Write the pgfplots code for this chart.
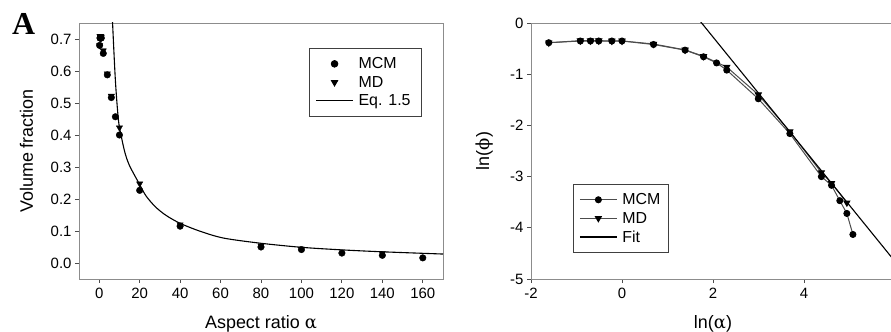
\documentclass[border=0pt]{standalone}
\usepackage{fontspec}
\setmainfont{Liberation Sans}
\newfontfamily\greekfont{DejaVu Serif}
\newfontfamily\tnr{Liberation Serif}
\usepackage{pgfplots}
\pgfplotsset{compat=1.18}
\pgfplotsset{
  mystyle/.style={
    scale only axis, width=364bp, height=256bp,
    axis line style={black!45, line width=0.9bp},
    tick style={black!70, line width=0.8bp},
    tick align=outside, major tick length=4bp, tick pos=left,
    ticklabel style={font=\fontsize{15}{17}\selectfont},
    xticklabel style={yshift=-2bp},
    label style={font=\fontsize{18}{20}\selectfont},
    /pgf/number format/assume math mode=true,
    legend style={draw=black!75, line width=0.9bp, inner xsep=6bp, inner ysep=7bp,
      font=\fontsize{16}{18}\selectfont, row sep=2bp, column sep=3bp, anchor=north west},
    legend cell align=left,
    legend image code/.code={\draw[mark repeat=2,mark phase=2,#1] plot coordinates {(0bp,0bp) (18.5bp,0bp) (37bp,0bp)};},
  }
}
\begin{document}
\begin{tikzpicture}
\useasboundingbox (0,0) rectangle (891bp,332bp);
\clip (0,0) rectangle (891bp,332bp);
\node[anchor=base west, inner sep=0pt, font=\fontsize{32}{34}\selectfont\tnr\bfseries] at (12bp,297bp) {A};
% Left panel
\begin{axis}[mystyle, at={(79bp,53bp)}, anchor=south west,
  xmin=-10, xmax=170, ymin=-0.05, ymax=0.75,
  xtick={0,20,40,60,80,100,120,140,160},
  xticklabels={0,20,40,60,80,100,120,140,160},
  ytick={0,0.1,0.2,0.3,0.4,0.5,0.6,0.7},
  yticklabels={0.0,0.1,0.2,0.3,0.4,0.5,0.6,0.7},
  xlabel={Aspect ratio {\greekfont α}},
  xlabel style={at={(axis description cs:0.5,0)}, anchor=base, yshift=-49bp},
  ylabel={Volume fraction},
  ylabel style={at={([xshift=-46bp]axis description cs:0,0.5)}, anchor=base},
  legend style={at={(0.632,0.902)}},
]
\addplot[only marks, mark=*, mark size=3.3bp, black] coordinates {
(0.2,0.680) (0.4,0.703) (0.5,0.703) (0.6,0.703) (0.8,0.703) (1,0.703) (2,0.655) (4,0.588) (6,0.517) (8,0.457) (10,0.400) (20,0.227) (40,0.115) (80,0.050) (100,0.042) (120,0.031) (140,0.024) (160,0.016)};
\addlegendentry{\makebox[55bp][l]{MCM}}
\addplot[only marks, mark=triangle*, mark options={rotate=180}, mark size=3.6bp, black] coordinates {
(0.2,0.680) (0.4,0.708) (0.5,0.708) (0.6,0.708) (0.8,0.708) (1,0.705) (2,0.664) (4,0.592) (6,0.522) (10,0.423) (20,0.248) (40,0.120) (80,0.054) (100,0.044) (140,0.030)};
\addlegendentry{\makebox[55bp][l]{MD}}
\addplot[black, line width=1.1bp, smooth] coordinates {
(6.4,0.78) (6.6,0.75) (8,0.57) (9.5,0.447) (11,0.393) (12.8,0.343) (15,0.304) (19.4,0.252) (23,0.211) (27.7,0.176) (33,0.149) (40,0.124) (50,0.099) (61.4,0.078) (79.5,0.062) (100,0.049) (120,0.041) (140,0.035) (170,0.028)};
\addlegendentry{\makebox[55bp][l]{Eq. 1.5}}
\end{axis}
% Right panel
\begin{axis}[mystyle, at={(531bp,53bp)}, anchor=south west,
  xmin=-2, xmax=6, ymin=-5, ymax=0,
  xtick={-2,0,2,4,6}, xticklabels={-2,0,2,4,6},
  ytick={-5,-4,-3,-2,-1,0}, yticklabels={-5,-4,-3,-2,-1,0},
  xlabel={ln({\greekfont α})},
  xlabel style={at={(axis description cs:0.5,0)}, anchor=base, yshift=-49bp},
  ylabel={ln({\greekfont ϕ})},
  ylabel style={at={([xshift=-42bp]axis description cs:0,0.5)}, anchor=base},
  legend style={at={(0.115,0.371)}},
]
\addplot[black!70, line width=1bp, mark=*, mark size=3bp, mark options={black, fill=black}] coordinates {
(-1.609,-0.385) (-0.916,-0.352) (-0.693,-0.352) (-0.511,-0.352) (-0.223,-0.352) (0,-0.352) (0.693,-0.42) (1.386,-0.53) (1.792,-0.66) (2.079,-0.78) (2.303,-0.92) (2.996,-1.48) (3.689,-2.16) (4.382,-3.00) (4.605,-3.17) (4.787,-3.47) (4.942,-3.72) (5.075,-4.13)};
\addlegendentry{\makebox[38bp][l]{MCM}}
\addplot[black!70, line width=1bp, mark=triangle*, mark size=3.4bp, mark options={black, fill=black, rotate=180}] coordinates {
(-1.609,-0.385) (-0.916,-0.345) (-0.693,-0.345) (-0.511,-0.345) (-0.223,-0.35) (0,-0.35) (0.693,-0.41) (1.386,-0.525) (1.792,-0.65) (2.303,-0.86) (2.996,-1.40) (3.689,-2.12) (4.382,-2.92) (4.605,-3.13) (4.942,-3.51)};
\addlegendentry{\makebox[38bp][l]{MD}}
\addplot[black, line width=1.1bp] coordinates {(1.5,0.274) (1.75,0) (6.2,-4.877)};
\addlegendentry{\makebox[38bp][l]{Fit}}
\end{axis}
\end{tikzpicture}
\end{document}
